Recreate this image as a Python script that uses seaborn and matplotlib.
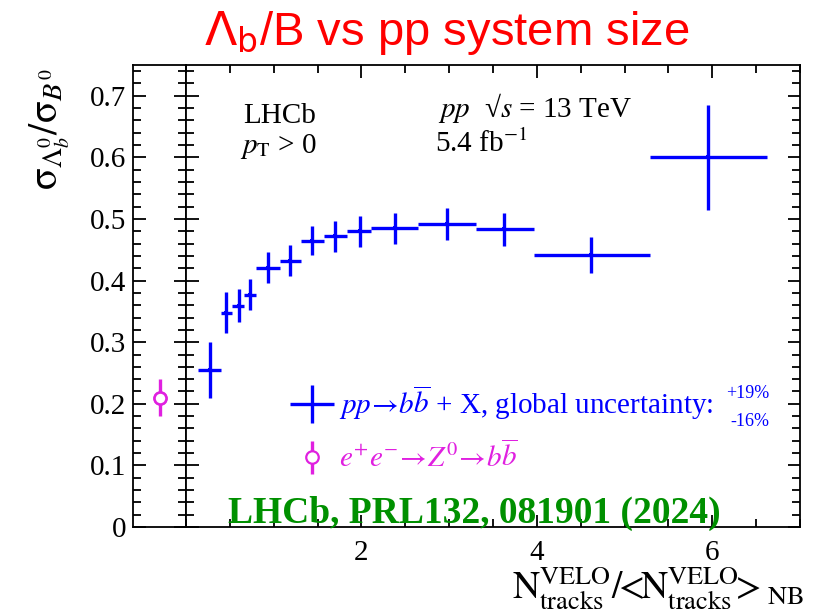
import numpy as np
import matplotlib
matplotlib.use("Agg")
import matplotlib.pyplot as plt
import seaborn as sns
import pandas as pd
from matplotlib.ticker import MultipleLocator, FuncFormatter, NullLocator
from matplotlib.legend_handler import HandlerErrorbar

# Lambda_b0 / B0 cross-section ratio in pp collisions vs normalised VELO track multiplicity
mult = [0.27, 0.46, 0.60, 0.73, 0.93, 1.19, 1.44, 1.70, 1.98, 2.38, 2.97, 3.63, 4.62, 5.95]
mult_lo = [0.14, 0.40, 0.53, 0.66, 0.80, 1.07, 1.31, 1.57, 1.84, 2.11, 2.65, 3.31, 3.97, 5.29]
mult_hi = [0.40, 0.53, 0.66, 0.80, 1.07, 1.31, 1.57, 1.84, 2.11, 2.65, 3.31, 3.97, 5.29, 6.62]
ratio = [0.255, 0.348, 0.359, 0.377, 0.421, 0.432, 0.465, 0.472, 0.480, 0.485, 0.492, 0.483, 0.441, 0.600]
ratio_err = [0.045, 0.033, 0.027, 0.025, 0.025, 0.025, 0.024, 0.025, 0.025, 0.025, 0.026, 0.027, 0.029, 0.085]

# e+e- -> Z0 -> b bbar reference value
ee_ratio = [0.21]
ee_err = [0.03]

x_ticks = [2, 4, 6]

pp_df = pd.DataFrame({"mult": mult, "ratio": ratio})
ee_df = pd.DataFrame({"pos": [0.5], "ratio": ee_ratio})

sns.set_theme(style="ticks")
plt.rcParams["font.family"] = ["Liberation Serif", "DejaVu Serif"]
plt.rcParams["mathtext.fontset"] = "stix"

W, H = 813, 614
fig = plt.figure(figsize=(W / 100, H / 100), dpi=100)


def fx(px):
    return px / W


def fy(py):
    return 1 - py / H


LEFT, SEP, RIGHT, TOP, BOTTOM = 133, 186, 800, 65, 527
ax_ee = fig.add_axes([fx(LEFT), fy(BOTTOM), fx(SEP - LEFT), (BOTTOM - TOP) / H])
ax = fig.add_axes([fx(SEP), fy(BOTTOM), fx(RIGHT - SEP), (BOTTOM - TOP) / H])

BLUE = "#0000ff"
MAGENTA = "#e020e0"

# pp measurement
pp_err = ax.errorbar(mult, ratio,
                     xerr=[np.array(mult) - np.array(mult_lo), np.array(mult_hi) - np.array(mult)],
                     yerr=ratio_err, fmt="none", ecolor=BLUE, elinewidth=2.4, capsize=0,
                     label=r"$pp\!\rightarrow\! b\overline{b}$ + X, global uncertainty:")
sns.scatterplot(data=pp_df, x="mult", y="ratio", ax=ax, color=BLUE, s=10,
                marker="s", linewidth=0, legend=False, zorder=3)

# e+e- reference
ee_cont = ax_ee.errorbar([0.5], ee_ratio, yerr=ee_err, fmt="o", color=MAGENTA,
                         ecolor=MAGENTA, elinewidth=2.4, capsize=0, markersize=9,
                         markerfacecolor="white", markeredgecolor=MAGENTA,
                         markeredgewidth=1.6, linestyle="none",
                         label=r"$e^{+}e^{-}\!\rightarrow\! Z^{0}\!\rightarrow\! b\overline{b}$")
sns.scatterplot(data=ee_df, x="pos", y="ratio", ax=ax_ee, s=70, marker="o",
                facecolor="white", edgecolor=MAGENTA, linewidth=1.6, legend=False, zorder=4)

for a in (ax, ax_ee):
    a.set_ylim(0, 0.75)
    a.yaxis.set_major_locator(MultipleLocator(0.1))
    a.yaxis.set_minor_locator(MultipleLocator(0.02))
    a.set_xlabel("")
    a.set_ylabel("")
    for s in a.spines.values():
        s.set_visible(True)
        s.set_linewidth(1.3)
        s.set_color("black")

ax_ee.set_xlim(0, 1)
ax_ee.xaxis.set_major_locator(NullLocator())
ax_ee.yaxis.set_major_formatter(FuncFormatter(lambda v, p: "0" if abs(v) < 1e-9 else f"{v:.1f}"))
ax_ee.tick_params(axis="y", which="both", left=True, right=True, direction="in",
                  labelleft=True, labelright=False, labelsize=21, pad=5, width=1.3, colors="black")
ax_ee.tick_params(axis="y", which="major", length=9)
ax_ee.tick_params(axis="y", which="minor", length=5.5)

ax.set_xlim(0, 7)
ax.set_xticks(x_ticks)
ax.xaxis.set_minor_locator(MultipleLocator(0.5))
ax.set_xticklabels([str(t) for t in x_ticks])
ax.tick_params(axis="both", which="both", direction="in", top=True, bottom=True,
               left=True, right=True, labelleft=False, labelsize=21, width=1.3,
               colors="black")
ax.tick_params(axis="both", which="major", length=9)
ax.tick_params(axis="both", which="minor", length=5.5)
ax.tick_params(axis="x", which="major", pad=9)

# axis titles
fig.text(fx(50), fy(129), r"$\mathrm{\sigma}_{\Lambda_b^0}/\mathrm{\sigma}_{B^0}$", rotation=90,
         ha="center", va="center", fontsize=29, color="black")
fig.text(fx(512), fy(600),
         r"$\mathrm{N}^{\mathrm{VELO}}_{\mathrm{tracks}}/\!\!<\!\!\mathrm{N}^{\mathrm{VELO}}_{\mathrm{tracks}}\!\!>_{\mathrm{NB}}$",
         ha="left", va="baseline", fontsize=27, color="black")

# title
fig.text(fx(447), fy(45), r"$\Lambda_{\mathrm{b}}$/B vs pp system size", ha="center",
         va="baseline", fontsize=34, color="#ff0000", family="Liberation Sans",
         math_fontfamily="dejavusans")

# annotations
fig.text(fx(243), fy(123), "LHCb", fontsize=21, color="black", va="baseline")
fig.text(fx(240), fy(153), r"$p_{\mathrm{T}}$ > 0", fontsize=21, color="black", va="baseline")
fig.text(fx(438), fy(117), "$pp$  √$s$ = 13 TeV", fontsize=21, color="black", va="baseline")
fig.text(fx(435), fy(152), r"5.4 fb$^{\mathrm{-1}}$", fontsize=21, color="black", va="baseline")

leg = ax.legend(handles=[pp_err, ee_cont], loc="upper left",
                bbox_to_anchor=(fx(289), fy(384)), bbox_transform=fig.transFigure,
                frameon=False, fontsize=21, handlelength=1.6, handletextpad=0.1,
                labelspacing=0.65, borderpad=0, borderaxespad=0,
                handler_map={pp_err: HandlerErrorbar(xerr_size=0.75, yerr_size=0.66),
                             ee_cont: HandlerErrorbar(xerr_size=0.5, yerr_size=0.57)})
for txt, c in zip(leg.get_texts(), [BLUE, MAGENTA]):
    txt.set_color(c)

fig.text(fx(748), fy(393), "+19%", fontsize=13, color=BLUE, ha="center", va="center")
fig.text(fx(750), fy(422), "-16%", fontsize=13, color=BLUE, ha="center", va="center")

fig.text(fx(228), fy(523), "LHCb, PRL132, 081901 (2024)", fontsize=27, color="#009000",
         fontweight="bold", va="baseline", ha="left")

fig.savefig("out.png", dpi=100)
